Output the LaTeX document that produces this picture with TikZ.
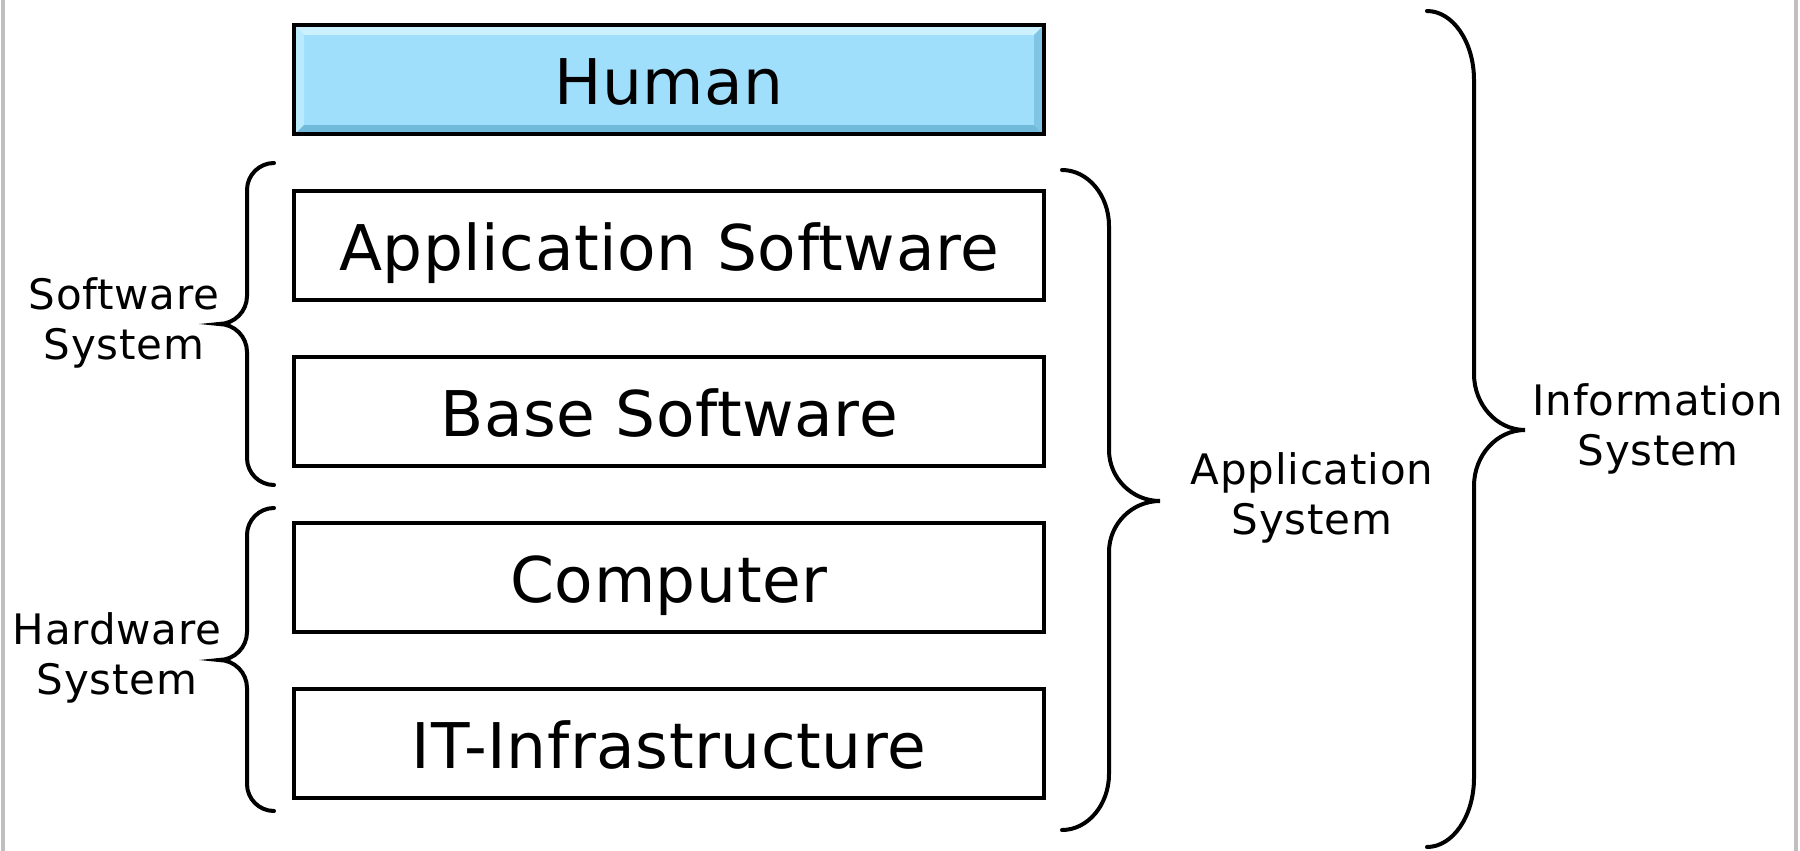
\documentclass[tikz,border=0pt]{standalone}
\usepackage{fontspec}
\setmainfont{DejaVu Sans}
\newfontfamily\bigfont[LetterSpace=0.9]{DejaVu Sans}
\newfontfamily\smallfont[LetterSpace=1.8]{DejaVu Sans}
\definecolor{humanblue}{HTML}{A0DFFB}
\definecolor{bevlight}{HTML}{CBF1FF}
\definecolor{bevleft}{HTML}{BAEAFD}
\definecolor{bevdark}{HTML}{72BADA}
\definecolor{bevright}{HTML}{80C5E3}
\newcommand{\drawbrace}[8]{%
  \draw[bracestyle] (#1,#4) .. controls ({#1+0.55*(#2-#1)},#4) and (#2,{#4+0.45*#7}) .. (#2,{#4+#7})
    -- (#2,{#5-#8}) .. controls (#2,{#5-0.45*#8}) and ({#2+0.45*(#3-#2)},#5) .. (#3,#5)
    .. controls ({#2+0.45*(#3-#2)},#5) and (#2,{#5+0.45*#8}) .. (#2,{#5+#8})
    -- (#2,{#6-#7}) .. controls (#2,{#6-0.45*#7}) and ({#1+0.55*(#2-#1)},#6) .. (#1,#6);}
\begin{document}
\begin{tikzpicture}[x=1pt,y=-1pt,
  layer/.style={draw=black, line width=4pt, minimum width=750pt, minimum height=109pt,
    inner sep=0pt, font=\bigfont\fontsize{63}{75}\selectfont, text height=50pt, text depth=0pt},
  bracestyle/.style={draw=black, line width=4pt, line cap=round},
  bracelabel/.style={inner sep=0pt, align=center, font=\smallfont\fontsize{42}{50}\selectfont}]
\useasboundingbox (0,0) rectangle (1800,851);
\fill[white] (0,0) rectangle (1800,851);
% page edges
\draw[line width=4pt, black!25] (3,0) -- (3,851);
\draw[line width=4pt, black!25] (1796,0) -- (1796,851);
% Human box bevel fill
\fill[humanblue] (296,27) rectangle (1042,133);
\fill[bevlight] (296,27) -- (1042,27) -- (1034,35) -- (304,35) -- cycle;
\fill[bevleft] (296,27) -- (304,35) -- (304,125) -- (296,133) -- cycle;
\fill[bevdark] (296,133) -- (304,125) -- (1034,125) -- (1042,133) -- cycle;
\fill[bevright] (1042,27) -- (1034,35) -- (1034,125) -- (1042,133) -- cycle;
% layers
\node[layer] (human) at (669,79.5) {Human};
\node[layer] (appsw) at (669,245.5) {Application Software};
\node[layer] (basesw) at (669,411.5) {Base Software};
\node[layer] (computer) at (669,577.5) {Computer};
\node[layer] (infra) at (669,743.5) {IT-Infrastructure};
% braces
\drawbrace{274}{247}{219}{163}{324}{485}{27}{28}
\drawbrace{274}{247}{219}{508}{660}{811}{27}{28}
\drawbrace{1062}{1109}{1160}{170}{501}{830}{56}{51}
\drawbrace{1427}{1474}{1525}{11}{430}{847}{69}{56}
% labels
\node[bracelabel] (swsys) at (124,323) {Software\\System};
\node[bracelabel] (hwsys) at (117,657.5) {Hardware\\System};
\node[bracelabel] (appsys) at (1312,498) {Application\\System};
\node[bracelabel] (infosys) at (1658,429) {Information\\System};
\end{tikzpicture}
\end{document}
